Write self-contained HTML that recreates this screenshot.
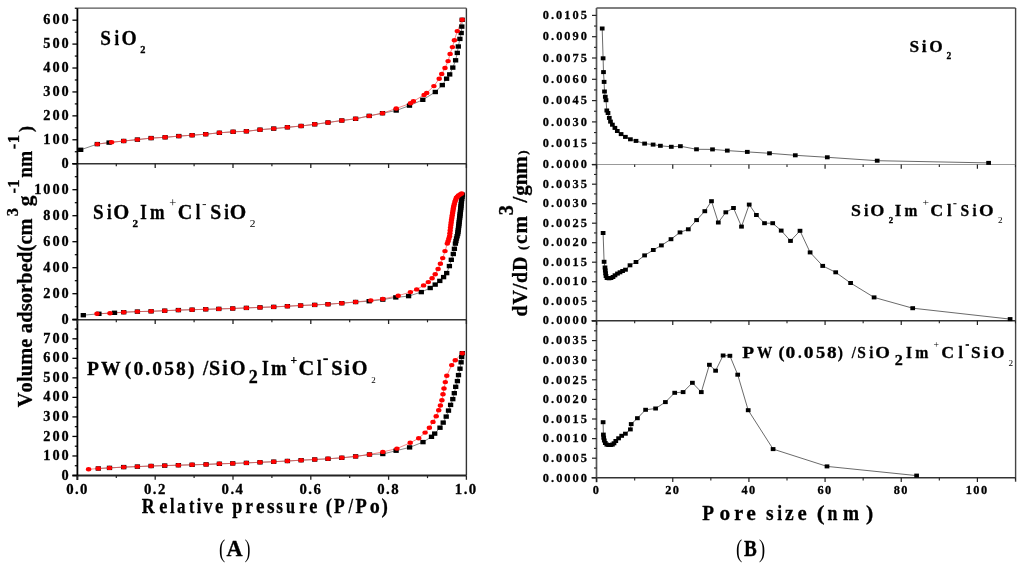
<!DOCTYPE html>
<html><head><meta charset="utf-8"><style>
html,body{margin:0;padding:0;background:#fff;}
body{width:1024px;height:564px;overflow:hidden;}
svg{display:block;will-change:transform;font-family:"Liberation Serif",serif;font-kerning:none;}
text{font-kerning:none;}
text[font-weight="bold"]{stroke:#000;stroke-width:0.3px;paint-order:stroke;}
</style></head><body>
<svg width="1024" height="564" viewBox="0 0 1024 564">
<rect width="1024" height="564" fill="#fff"/>
<line x1="77.4" y1="8.2" x2="466.4" y2="8.2" stroke="#555" stroke-width="1.3"/>
<line x1="466.4" y1="8.2" x2="466.4" y2="475.5" stroke="#333" stroke-width="1.4"/>
<line x1="72.4" y1="163.7" x2="466.4" y2="163.7" stroke="#333" stroke-width="1.6"/>
<line x1="72.4" y1="319.7" x2="466.4" y2="319.7" stroke="#333" stroke-width="1.6"/>
<line x1="72.4" y1="475.5" x2="466.4" y2="475.5" stroke="#222" stroke-width="1.8"/>
<line x1="77.4" y1="8.2" x2="77.4" y2="480" stroke="#000" stroke-width="1.8"/>
<line x1="72.4" y1="163.7" x2="77.4" y2="163.7" stroke="#000" stroke-width="1.3"/>
<line x1="74.8" y1="151.74" x2="77.4" y2="151.74" stroke="#000" stroke-width="1.2"/>
<line x1="72.4" y1="139.78" x2="77.4" y2="139.78" stroke="#000" stroke-width="1.3"/>
<line x1="74.8" y1="127.82" x2="77.4" y2="127.82" stroke="#000" stroke-width="1.2"/>
<line x1="72.4" y1="115.86" x2="77.4" y2="115.86" stroke="#000" stroke-width="1.3"/>
<line x1="74.8" y1="103.9" x2="77.4" y2="103.9" stroke="#000" stroke-width="1.2"/>
<line x1="72.4" y1="91.94" x2="77.4" y2="91.94" stroke="#000" stroke-width="1.3"/>
<line x1="74.8" y1="79.98" x2="77.4" y2="79.98" stroke="#000" stroke-width="1.2"/>
<line x1="72.4" y1="68.02" x2="77.4" y2="68.02" stroke="#000" stroke-width="1.3"/>
<line x1="74.8" y1="56.06" x2="77.4" y2="56.06" stroke="#000" stroke-width="1.2"/>
<line x1="72.4" y1="44.1" x2="77.4" y2="44.1" stroke="#000" stroke-width="1.3"/>
<line x1="74.8" y1="32.14" x2="77.4" y2="32.14" stroke="#000" stroke-width="1.2"/>
<line x1="72.4" y1="20.18" x2="77.4" y2="20.18" stroke="#000" stroke-width="1.3"/>
<line x1="74.8" y1="8.22" x2="77.4" y2="8.22" stroke="#000" stroke-width="1.2"/>
<text transform="matrix(1,0,0,1,61.59,167.8)" font-size="14.3" font-weight="bold" letter-spacing="2" fill="#000">0</text>
<text transform="matrix(1,0,0,1,43.29,143.88)" font-size="14.3" font-weight="bold" letter-spacing="2" fill="#000">100</text>
<text transform="matrix(1,0,0,1,43.29,119.96)" font-size="14.3" font-weight="bold" letter-spacing="2" fill="#000">200</text>
<text transform="matrix(1,0,0,1,43.29,96.04)" font-size="14.3" font-weight="bold" letter-spacing="2" fill="#000">300</text>
<text transform="matrix(1,0,0,1,43.29,72.12)" font-size="14.3" font-weight="bold" letter-spacing="2" fill="#000">400</text>
<text transform="matrix(1,0,0,1,43.29,48.2)" font-size="14.3" font-weight="bold" letter-spacing="2" fill="#000">500</text>
<text transform="matrix(1,0,0,1,43.29,24.28)" font-size="14.3" font-weight="bold" letter-spacing="2" fill="#000">600</text>
<line x1="72.4" y1="319.7" x2="77.4" y2="319.7" stroke="#000" stroke-width="1.3"/>
<line x1="74.8" y1="306.7" x2="77.4" y2="306.7" stroke="#000" stroke-width="1.2"/>
<line x1="72.4" y1="293.7" x2="77.4" y2="293.7" stroke="#000" stroke-width="1.3"/>
<line x1="74.8" y1="280.7" x2="77.4" y2="280.7" stroke="#000" stroke-width="1.2"/>
<line x1="72.4" y1="267.7" x2="77.4" y2="267.7" stroke="#000" stroke-width="1.3"/>
<line x1="74.8" y1="254.7" x2="77.4" y2="254.7" stroke="#000" stroke-width="1.2"/>
<line x1="72.4" y1="241.7" x2="77.4" y2="241.7" stroke="#000" stroke-width="1.3"/>
<line x1="74.8" y1="228.7" x2="77.4" y2="228.7" stroke="#000" stroke-width="1.2"/>
<line x1="72.4" y1="215.7" x2="77.4" y2="215.7" stroke="#000" stroke-width="1.3"/>
<line x1="74.8" y1="202.7" x2="77.4" y2="202.7" stroke="#000" stroke-width="1.2"/>
<line x1="72.4" y1="189.7" x2="77.4" y2="189.7" stroke="#000" stroke-width="1.3"/>
<line x1="74.8" y1="176.7" x2="77.4" y2="176.7" stroke="#000" stroke-width="1.2"/>
<line x1="72.4" y1="163.7" x2="77.4" y2="163.7" stroke="#000" stroke-width="1.3"/>
<text transform="matrix(1,0,0,1,61.59,323.8)" font-size="14.3" font-weight="bold" letter-spacing="2" fill="#000">0</text>
<text transform="matrix(1,0,0,1,43.29,297.8)" font-size="14.3" font-weight="bold" letter-spacing="2" fill="#000">200</text>
<text transform="matrix(1,0,0,1,43.29,271.8)" font-size="14.3" font-weight="bold" letter-spacing="2" fill="#000">400</text>
<text transform="matrix(1,0,0,1,43.29,245.8)" font-size="14.3" font-weight="bold" letter-spacing="2" fill="#000">600</text>
<text transform="matrix(1,0,0,1,43.29,219.8)" font-size="14.3" font-weight="bold" letter-spacing="2" fill="#000">800</text>
<text transform="matrix(1,0,0,1,34.14,193.8)" font-size="14.3" font-weight="bold" letter-spacing="2" fill="#000">1000</text>
<line x1="72.4" y1="475.5" x2="77.4" y2="475.5" stroke="#000" stroke-width="1.3"/>
<line x1="74.8" y1="465.74" x2="77.4" y2="465.74" stroke="#000" stroke-width="1.2"/>
<line x1="72.4" y1="455.97" x2="77.4" y2="455.97" stroke="#000" stroke-width="1.3"/>
<line x1="74.8" y1="446.2" x2="77.4" y2="446.2" stroke="#000" stroke-width="1.2"/>
<line x1="72.4" y1="436.44" x2="77.4" y2="436.44" stroke="#000" stroke-width="1.3"/>
<line x1="74.8" y1="426.68" x2="77.4" y2="426.68" stroke="#000" stroke-width="1.2"/>
<line x1="72.4" y1="416.91" x2="77.4" y2="416.91" stroke="#000" stroke-width="1.3"/>
<line x1="74.8" y1="407.14" x2="77.4" y2="407.14" stroke="#000" stroke-width="1.2"/>
<line x1="72.4" y1="397.38" x2="77.4" y2="397.38" stroke="#000" stroke-width="1.3"/>
<line x1="74.8" y1="387.62" x2="77.4" y2="387.62" stroke="#000" stroke-width="1.2"/>
<line x1="72.4" y1="377.85" x2="77.4" y2="377.85" stroke="#000" stroke-width="1.3"/>
<line x1="74.8" y1="368.08" x2="77.4" y2="368.08" stroke="#000" stroke-width="1.2"/>
<line x1="72.4" y1="358.32" x2="77.4" y2="358.32" stroke="#000" stroke-width="1.3"/>
<line x1="74.8" y1="348.56" x2="77.4" y2="348.56" stroke="#000" stroke-width="1.2"/>
<line x1="72.4" y1="338.79" x2="77.4" y2="338.79" stroke="#000" stroke-width="1.3"/>
<line x1="74.8" y1="329.02" x2="77.4" y2="329.02" stroke="#000" stroke-width="1.2"/>
<line x1="72.4" y1="319.26" x2="77.4" y2="319.26" stroke="#000" stroke-width="1.3"/>
<text transform="matrix(1,0,0,1,61.59,479.6)" font-size="14.3" font-weight="bold" letter-spacing="2" fill="#000">0</text>
<text transform="matrix(1,0,0,1,43.29,460.07)" font-size="14.3" font-weight="bold" letter-spacing="2" fill="#000">100</text>
<text transform="matrix(1,0,0,1,43.29,440.54)" font-size="14.3" font-weight="bold" letter-spacing="2" fill="#000">200</text>
<text transform="matrix(1,0,0,1,43.29,421.01)" font-size="14.3" font-weight="bold" letter-spacing="2" fill="#000">300</text>
<text transform="matrix(1,0,0,1,43.29,401.48)" font-size="14.3" font-weight="bold" letter-spacing="2" fill="#000">400</text>
<text transform="matrix(1,0,0,1,43.29,381.95)" font-size="14.3" font-weight="bold" letter-spacing="2" fill="#000">500</text>
<text transform="matrix(1,0,0,1,43.29,362.42)" font-size="14.3" font-weight="bold" letter-spacing="2" fill="#000">600</text>
<text transform="matrix(1,0,0,1,43.29,342.89)" font-size="14.3" font-weight="bold" letter-spacing="2" fill="#000">700</text>
<line x1="77.4" y1="163.7" x2="77.4" y2="168" stroke="#222" stroke-width="1.3"/>
<line x1="116.3" y1="163.7" x2="116.3" y2="166.3" stroke="#222" stroke-width="1.2"/>
<line x1="155.2" y1="163.7" x2="155.2" y2="168" stroke="#222" stroke-width="1.3"/>
<line x1="194.1" y1="163.7" x2="194.1" y2="166.3" stroke="#222" stroke-width="1.2"/>
<line x1="233" y1="163.7" x2="233" y2="168" stroke="#222" stroke-width="1.3"/>
<line x1="271.9" y1="163.7" x2="271.9" y2="166.3" stroke="#222" stroke-width="1.2"/>
<line x1="310.8" y1="163.7" x2="310.8" y2="168" stroke="#222" stroke-width="1.3"/>
<line x1="349.7" y1="163.7" x2="349.7" y2="166.3" stroke="#222" stroke-width="1.2"/>
<line x1="388.6" y1="163.7" x2="388.6" y2="168" stroke="#222" stroke-width="1.3"/>
<line x1="427.5" y1="163.7" x2="427.5" y2="166.3" stroke="#222" stroke-width="1.2"/>
<line x1="466.4" y1="163.7" x2="466.4" y2="168" stroke="#222" stroke-width="1.3"/>
<line x1="77.4" y1="319.7" x2="77.4" y2="324" stroke="#222" stroke-width="1.3"/>
<line x1="116.3" y1="319.7" x2="116.3" y2="322.3" stroke="#222" stroke-width="1.2"/>
<line x1="155.2" y1="319.7" x2="155.2" y2="324" stroke="#222" stroke-width="1.3"/>
<line x1="194.1" y1="319.7" x2="194.1" y2="322.3" stroke="#222" stroke-width="1.2"/>
<line x1="233" y1="319.7" x2="233" y2="324" stroke="#222" stroke-width="1.3"/>
<line x1="271.9" y1="319.7" x2="271.9" y2="322.3" stroke="#222" stroke-width="1.2"/>
<line x1="310.8" y1="319.7" x2="310.8" y2="324" stroke="#222" stroke-width="1.3"/>
<line x1="349.7" y1="319.7" x2="349.7" y2="322.3" stroke="#222" stroke-width="1.2"/>
<line x1="388.6" y1="319.7" x2="388.6" y2="324" stroke="#222" stroke-width="1.3"/>
<line x1="427.5" y1="319.7" x2="427.5" y2="322.3" stroke="#222" stroke-width="1.2"/>
<line x1="466.4" y1="319.7" x2="466.4" y2="324" stroke="#222" stroke-width="1.3"/>
<line x1="77.4" y1="475.5" x2="77.4" y2="479.8" stroke="#222" stroke-width="1.3"/>
<line x1="116.3" y1="475.5" x2="116.3" y2="478.1" stroke="#222" stroke-width="1.2"/>
<line x1="155.2" y1="475.5" x2="155.2" y2="479.8" stroke="#222" stroke-width="1.3"/>
<line x1="194.1" y1="475.5" x2="194.1" y2="478.1" stroke="#222" stroke-width="1.2"/>
<line x1="233" y1="475.5" x2="233" y2="479.8" stroke="#222" stroke-width="1.3"/>
<line x1="271.9" y1="475.5" x2="271.9" y2="478.1" stroke="#222" stroke-width="1.2"/>
<line x1="310.8" y1="475.5" x2="310.8" y2="479.8" stroke="#222" stroke-width="1.3"/>
<line x1="349.7" y1="475.5" x2="349.7" y2="478.1" stroke="#222" stroke-width="1.2"/>
<line x1="388.6" y1="475.5" x2="388.6" y2="479.8" stroke="#222" stroke-width="1.3"/>
<line x1="427.5" y1="475.5" x2="427.5" y2="478.1" stroke="#222" stroke-width="1.2"/>
<line x1="466.4" y1="475.5" x2="466.4" y2="479.8" stroke="#222" stroke-width="1.3"/>
<text transform="matrix(1,0,0,1,66.15,493.8)" font-size="14.8" font-weight="bold" letter-spacing="1.4" fill="#000">0.0</text>
<text transform="matrix(1,0,0,1,143.99,493.8)" font-size="14.8" font-weight="bold" letter-spacing="1.4" fill="#000">0.2</text>
<text transform="matrix(1,0,0,1,221.61,493.8)" font-size="14.8" font-weight="bold" letter-spacing="1.4" fill="#000">0.4</text>
<text transform="matrix(1,0,0,1,299.48,493.8)" font-size="14.8" font-weight="bold" letter-spacing="1.4" fill="#000">0.6</text>
<text transform="matrix(1,0,0,1,377.31,493.8)" font-size="14.8" font-weight="bold" letter-spacing="1.4" fill="#000">0.8</text>
<text transform="matrix(1,0,0,1,454.84,493.8)" font-size="14.8" font-weight="bold" letter-spacing="1.4" fill="#000">1.0</text>
<line x1="596.5" y1="8" x2="1015.6" y2="8" stroke="#555" stroke-width="1.3"/>
<line x1="1015.6" y1="8" x2="1015.6" y2="481.8" stroke="#444" stroke-width="1.4"/>
<line x1="591.5" y1="164.5" x2="1015.6" y2="164.5" stroke="#999" stroke-width="1.2"/>
<line x1="591.5" y1="320.7" x2="1015.6" y2="320.7" stroke="#333" stroke-width="1.5"/>
<line x1="591.5" y1="477.8" x2="1015.6" y2="477.8" stroke="#333" stroke-width="1.6"/>
<line x1="596.5" y1="8" x2="596.5" y2="482.3" stroke="#555" stroke-width="1.7"/>
<line x1="592" y1="164.5" x2="596.5" y2="164.5" stroke="#222" stroke-width="1.2"/>
<line x1="594" y1="153.85" x2="596.5" y2="153.85" stroke="#222" stroke-width="1.1"/>
<line x1="592" y1="143.2" x2="596.5" y2="143.2" stroke="#222" stroke-width="1.2"/>
<line x1="594" y1="132.55" x2="596.5" y2="132.55" stroke="#222" stroke-width="1.1"/>
<line x1="592" y1="121.9" x2="596.5" y2="121.9" stroke="#222" stroke-width="1.2"/>
<line x1="594" y1="111.25" x2="596.5" y2="111.25" stroke="#222" stroke-width="1.1"/>
<line x1="592" y1="100.6" x2="596.5" y2="100.6" stroke="#222" stroke-width="1.2"/>
<line x1="594" y1="89.95" x2="596.5" y2="89.95" stroke="#222" stroke-width="1.1"/>
<line x1="592" y1="79.3" x2="596.5" y2="79.3" stroke="#222" stroke-width="1.2"/>
<line x1="594" y1="68.65" x2="596.5" y2="68.65" stroke="#222" stroke-width="1.1"/>
<line x1="592" y1="58" x2="596.5" y2="58" stroke="#222" stroke-width="1.2"/>
<line x1="594" y1="47.35" x2="596.5" y2="47.35" stroke="#222" stroke-width="1.1"/>
<line x1="592" y1="36.7" x2="596.5" y2="36.7" stroke="#222" stroke-width="1.2"/>
<line x1="594" y1="26.05" x2="596.5" y2="26.05" stroke="#222" stroke-width="1.1"/>
<line x1="592" y1="15.4" x2="596.5" y2="15.4" stroke="#222" stroke-width="1.2"/>
<text transform="matrix(0.93,0,0,1,542.86,168.2)" font-size="13.3" font-weight="bold" letter-spacing="2.15" fill="#000">0.0000</text>
<text transform="matrix(0.93,0,0,1,542.84,146.9)" font-size="13.3" font-weight="bold" letter-spacing="2.15" fill="#000">0.0015</text>
<text transform="matrix(0.93,0,0,1,542.86,125.6)" font-size="13.3" font-weight="bold" letter-spacing="2.15" fill="#000">0.0030</text>
<text transform="matrix(0.93,0,0,1,542.84,104.3)" font-size="13.3" font-weight="bold" letter-spacing="2.15" fill="#000">0.0045</text>
<text transform="matrix(0.93,0,0,1,542.86,83)" font-size="13.3" font-weight="bold" letter-spacing="2.15" fill="#000">0.0060</text>
<text transform="matrix(0.93,0,0,1,542.84,61.7)" font-size="13.3" font-weight="bold" letter-spacing="2.15" fill="#000">0.0075</text>
<text transform="matrix(0.93,0,0,1,542.86,40.4)" font-size="13.3" font-weight="bold" letter-spacing="2.15" fill="#000">0.0090</text>
<text transform="matrix(0.93,0,0,1,542.84,19.1)" font-size="13.3" font-weight="bold" letter-spacing="2.15" fill="#000">0.0105</text>
<line x1="592" y1="320.7" x2="596.5" y2="320.7" stroke="#222" stroke-width="1.2"/>
<line x1="594" y1="310.95" x2="596.5" y2="310.95" stroke="#222" stroke-width="1.1"/>
<line x1="592" y1="301.2" x2="596.5" y2="301.2" stroke="#222" stroke-width="1.2"/>
<line x1="594" y1="291.45" x2="596.5" y2="291.45" stroke="#222" stroke-width="1.1"/>
<line x1="592" y1="281.7" x2="596.5" y2="281.7" stroke="#222" stroke-width="1.2"/>
<line x1="594" y1="271.95" x2="596.5" y2="271.95" stroke="#222" stroke-width="1.1"/>
<line x1="592" y1="262.2" x2="596.5" y2="262.2" stroke="#222" stroke-width="1.2"/>
<line x1="594" y1="252.45" x2="596.5" y2="252.45" stroke="#222" stroke-width="1.1"/>
<line x1="592" y1="242.7" x2="596.5" y2="242.7" stroke="#222" stroke-width="1.2"/>
<line x1="594" y1="232.95" x2="596.5" y2="232.95" stroke="#222" stroke-width="1.1"/>
<line x1="592" y1="223.2" x2="596.5" y2="223.2" stroke="#222" stroke-width="1.2"/>
<line x1="594" y1="213.45" x2="596.5" y2="213.45" stroke="#222" stroke-width="1.1"/>
<line x1="592" y1="203.7" x2="596.5" y2="203.7" stroke="#222" stroke-width="1.2"/>
<line x1="594" y1="193.95" x2="596.5" y2="193.95" stroke="#222" stroke-width="1.1"/>
<line x1="592" y1="184.2" x2="596.5" y2="184.2" stroke="#222" stroke-width="1.2"/>
<line x1="594" y1="174.45" x2="596.5" y2="174.45" stroke="#222" stroke-width="1.1"/>
<line x1="592" y1="164.7" x2="596.5" y2="164.7" stroke="#222" stroke-width="1.2"/>
<text transform="matrix(0.93,0,0,1,542.86,324.4)" font-size="13.3" font-weight="bold" letter-spacing="2.15" fill="#000">0.0000</text>
<text transform="matrix(0.93,0,0,1,542.84,304.9)" font-size="13.3" font-weight="bold" letter-spacing="2.15" fill="#000">0.0005</text>
<text transform="matrix(0.93,0,0,1,542.86,285.4)" font-size="13.3" font-weight="bold" letter-spacing="2.15" fill="#000">0.0010</text>
<text transform="matrix(0.93,0,0,1,542.84,265.9)" font-size="13.3" font-weight="bold" letter-spacing="2.15" fill="#000">0.0015</text>
<text transform="matrix(0.93,0,0,1,542.86,246.4)" font-size="13.3" font-weight="bold" letter-spacing="2.15" fill="#000">0.0020</text>
<text transform="matrix(0.93,0,0,1,542.84,226.9)" font-size="13.3" font-weight="bold" letter-spacing="2.15" fill="#000">0.0025</text>
<text transform="matrix(0.93,0,0,1,542.86,207.4)" font-size="13.3" font-weight="bold" letter-spacing="2.15" fill="#000">0.0030</text>
<text transform="matrix(0.93,0,0,1,542.84,187.9)" font-size="13.3" font-weight="bold" letter-spacing="2.15" fill="#000">0.0035</text>
<line x1="592" y1="477.8" x2="596.5" y2="477.8" stroke="#222" stroke-width="1.2"/>
<line x1="594" y1="468" x2="596.5" y2="468" stroke="#222" stroke-width="1.1"/>
<line x1="592" y1="458.2" x2="596.5" y2="458.2" stroke="#222" stroke-width="1.2"/>
<line x1="594" y1="448.4" x2="596.5" y2="448.4" stroke="#222" stroke-width="1.1"/>
<line x1="592" y1="438.6" x2="596.5" y2="438.6" stroke="#222" stroke-width="1.2"/>
<line x1="594" y1="428.8" x2="596.5" y2="428.8" stroke="#222" stroke-width="1.1"/>
<line x1="592" y1="419" x2="596.5" y2="419" stroke="#222" stroke-width="1.2"/>
<line x1="594" y1="409.2" x2="596.5" y2="409.2" stroke="#222" stroke-width="1.1"/>
<line x1="592" y1="399.4" x2="596.5" y2="399.4" stroke="#222" stroke-width="1.2"/>
<line x1="594" y1="389.6" x2="596.5" y2="389.6" stroke="#222" stroke-width="1.1"/>
<line x1="592" y1="379.8" x2="596.5" y2="379.8" stroke="#222" stroke-width="1.2"/>
<line x1="594" y1="370" x2="596.5" y2="370" stroke="#222" stroke-width="1.1"/>
<line x1="592" y1="360.2" x2="596.5" y2="360.2" stroke="#222" stroke-width="1.2"/>
<line x1="594" y1="350.4" x2="596.5" y2="350.4" stroke="#222" stroke-width="1.1"/>
<line x1="592" y1="340.6" x2="596.5" y2="340.6" stroke="#222" stroke-width="1.2"/>
<line x1="594" y1="330.8" x2="596.5" y2="330.8" stroke="#222" stroke-width="1.1"/>
<line x1="592" y1="321" x2="596.5" y2="321" stroke="#222" stroke-width="1.2"/>
<text transform="matrix(0.93,0,0,1,542.86,481.5)" font-size="13.3" font-weight="bold" letter-spacing="2.15" fill="#000">0.0000</text>
<text transform="matrix(0.93,0,0,1,542.84,461.9)" font-size="13.3" font-weight="bold" letter-spacing="2.15" fill="#000">0.0005</text>
<text transform="matrix(0.93,0,0,1,542.86,442.3)" font-size="13.3" font-weight="bold" letter-spacing="2.15" fill="#000">0.0010</text>
<text transform="matrix(0.93,0,0,1,542.84,422.7)" font-size="13.3" font-weight="bold" letter-spacing="2.15" fill="#000">0.0015</text>
<text transform="matrix(0.93,0,0,1,542.86,403.1)" font-size="13.3" font-weight="bold" letter-spacing="2.15" fill="#000">0.0020</text>
<text transform="matrix(0.93,0,0,1,542.84,383.5)" font-size="13.3" font-weight="bold" letter-spacing="2.15" fill="#000">0.0025</text>
<text transform="matrix(0.93,0,0,1,542.86,363.9)" font-size="13.3" font-weight="bold" letter-spacing="2.15" fill="#000">0.0030</text>
<text transform="matrix(0.93,0,0,1,542.84,344.3)" font-size="13.3" font-weight="bold" letter-spacing="2.15" fill="#000">0.0035</text>
<line x1="596.6" y1="164.5" x2="596.6" y2="168.8" stroke="#222" stroke-width="1.2"/>
<line x1="634.68" y1="164.5" x2="634.68" y2="167.1" stroke="#222" stroke-width="1.1"/>
<line x1="672.76" y1="164.5" x2="672.76" y2="168.8" stroke="#222" stroke-width="1.2"/>
<line x1="710.84" y1="164.5" x2="710.84" y2="167.1" stroke="#222" stroke-width="1.1"/>
<line x1="748.92" y1="164.5" x2="748.92" y2="168.8" stroke="#222" stroke-width="1.2"/>
<line x1="787" y1="164.5" x2="787" y2="167.1" stroke="#222" stroke-width="1.1"/>
<line x1="825.08" y1="164.5" x2="825.08" y2="168.8" stroke="#222" stroke-width="1.2"/>
<line x1="863.16" y1="164.5" x2="863.16" y2="167.1" stroke="#222" stroke-width="1.1"/>
<line x1="901.24" y1="164.5" x2="901.24" y2="168.8" stroke="#222" stroke-width="1.2"/>
<line x1="939.32" y1="164.5" x2="939.32" y2="167.1" stroke="#222" stroke-width="1.1"/>
<line x1="977.4" y1="164.5" x2="977.4" y2="168.8" stroke="#222" stroke-width="1.2"/>
<line x1="1015.48" y1="164.5" x2="1015.48" y2="167.1" stroke="#222" stroke-width="1.1"/>
<line x1="596.6" y1="320.7" x2="596.6" y2="325" stroke="#222" stroke-width="1.2"/>
<line x1="634.68" y1="320.7" x2="634.68" y2="323.3" stroke="#222" stroke-width="1.1"/>
<line x1="672.76" y1="320.7" x2="672.76" y2="325" stroke="#222" stroke-width="1.2"/>
<line x1="710.84" y1="320.7" x2="710.84" y2="323.3" stroke="#222" stroke-width="1.1"/>
<line x1="748.92" y1="320.7" x2="748.92" y2="325" stroke="#222" stroke-width="1.2"/>
<line x1="787" y1="320.7" x2="787" y2="323.3" stroke="#222" stroke-width="1.1"/>
<line x1="825.08" y1="320.7" x2="825.08" y2="325" stroke="#222" stroke-width="1.2"/>
<line x1="863.16" y1="320.7" x2="863.16" y2="323.3" stroke="#222" stroke-width="1.1"/>
<line x1="901.24" y1="320.7" x2="901.24" y2="325" stroke="#222" stroke-width="1.2"/>
<line x1="939.32" y1="320.7" x2="939.32" y2="323.3" stroke="#222" stroke-width="1.1"/>
<line x1="977.4" y1="320.7" x2="977.4" y2="325" stroke="#222" stroke-width="1.2"/>
<line x1="1015.48" y1="320.7" x2="1015.48" y2="323.3" stroke="#222" stroke-width="1.1"/>
<line x1="596.6" y1="477.8" x2="596.6" y2="482.1" stroke="#222" stroke-width="1.2"/>
<line x1="634.68" y1="477.8" x2="634.68" y2="480.4" stroke="#222" stroke-width="1.1"/>
<line x1="672.76" y1="477.8" x2="672.76" y2="482.1" stroke="#222" stroke-width="1.2"/>
<line x1="710.84" y1="477.8" x2="710.84" y2="480.4" stroke="#222" stroke-width="1.1"/>
<line x1="748.92" y1="477.8" x2="748.92" y2="482.1" stroke="#222" stroke-width="1.2"/>
<line x1="787" y1="477.8" x2="787" y2="480.4" stroke="#222" stroke-width="1.1"/>
<line x1="825.08" y1="477.8" x2="825.08" y2="482.1" stroke="#222" stroke-width="1.2"/>
<line x1="863.16" y1="477.8" x2="863.16" y2="480.4" stroke="#222" stroke-width="1.1"/>
<line x1="901.24" y1="477.8" x2="901.24" y2="482.1" stroke="#222" stroke-width="1.2"/>
<line x1="939.32" y1="477.8" x2="939.32" y2="480.4" stroke="#222" stroke-width="1.1"/>
<line x1="977.4" y1="477.8" x2="977.4" y2="482.1" stroke="#222" stroke-width="1.2"/>
<line x1="1015.48" y1="477.8" x2="1015.48" y2="480.4" stroke="#222" stroke-width="1.1"/>
<text transform="matrix(0.95,0,0,1,592.81,493.8)" font-size="13" font-weight="bold" letter-spacing="1.5" fill="#000">0</text>
<text transform="matrix(0.95,0,0,1,665.15,493.8)" font-size="13" font-weight="bold" letter-spacing="1.5" fill="#000">20</text>
<text transform="matrix(0.95,0,0,1,741.48,493.8)" font-size="13" font-weight="bold" letter-spacing="1.5" fill="#000">40</text>
<text transform="matrix(0.95,0,0,1,817.52,493.8)" font-size="13" font-weight="bold" letter-spacing="1.5" fill="#000">60</text>
<text transform="matrix(0.95,0,0,1,893.68,493.8)" font-size="13" font-weight="bold" letter-spacing="1.5" fill="#000">80</text>
<text transform="matrix(0.95,0,0,1,965.75,493.8)" font-size="13" font-weight="bold" letter-spacing="1.5" fill="#000">100</text>
<polyline points="80.7,149.8 97.3,144.1 109.1,142.6 123.7,141 137.4,139.6 151.1,138.1 165.1,137.3 178.8,136.1 192.1,135.2 205.7,134.2 219.4,132.8 233.1,131.8 246.4,131.3 260,129.7 273.7,128.6 287.4,127.3 301.1,126 314.7,124.3 328,122.5 341.8,120.5 355.6,118.8 369.2,115.9 382.5,113.2 396.2,110.5 409.5,105.6 422.8,99.8 435.3,92 442.3,85.1 446.6,78.7 449.7,74.4 452.8,67.6 455.6,60.3 457.3,52.9 458.3,46.5 459.9,38.9 461.2,33 461.8,26.6 462.2,19.8" fill="none" stroke="#555" stroke-width="0.7"/>
<polyline points="97.3,144.1 111.6,142.2 123.7,141 137.4,139.6 151.1,138.1 165.1,137.3 178.8,136.1 192.1,135.2 205.7,134.2 219.4,132.8 233.1,131.8 246.4,131.3 260,129.7 273.7,128.6 287.4,127.3 301.1,126 314.7,124.3 328,122.5 341.8,120.5 355.6,118.8 369.2,115.9 382.5,113.2 396.2,108.5 410.5,103.3 413.4,101.3 424.1,94.9 426.7,92.9 433.9,86.1 439.2,78.7 441.7,74 445,68 448.1,61.1 450.1,53.9 452.4,47.1 454.4,40.2 457.3,31.1 462.2,19.8" fill="none" stroke="#e55" stroke-width="0.7"/>
<rect x="78.05" y="147.6" width="5.3" height="4.4" fill="#000"/>
<rect x="94.65" y="141.9" width="5.3" height="4.4" fill="#000"/>
<rect x="106.45" y="140.4" width="5.3" height="4.4" fill="#000"/>
<rect x="121.05" y="138.8" width="5.3" height="4.4" fill="#000"/>
<rect x="134.75" y="137.4" width="5.3" height="4.4" fill="#000"/>
<rect x="148.45" y="135.9" width="5.3" height="4.4" fill="#000"/>
<rect x="162.45" y="135.1" width="5.3" height="4.4" fill="#000"/>
<rect x="176.15" y="133.9" width="5.3" height="4.4" fill="#000"/>
<rect x="189.45" y="133" width="5.3" height="4.4" fill="#000"/>
<rect x="203.05" y="132" width="5.3" height="4.4" fill="#000"/>
<rect x="216.75" y="130.6" width="5.3" height="4.4" fill="#000"/>
<rect x="230.45" y="129.6" width="5.3" height="4.4" fill="#000"/>
<rect x="243.75" y="129.1" width="5.3" height="4.4" fill="#000"/>
<rect x="257.35" y="127.5" width="5.3" height="4.4" fill="#000"/>
<rect x="271.05" y="126.4" width="5.3" height="4.4" fill="#000"/>
<rect x="284.75" y="125.1" width="5.3" height="4.4" fill="#000"/>
<rect x="298.45" y="123.8" width="5.3" height="4.4" fill="#000"/>
<rect x="312.05" y="122.1" width="5.3" height="4.4" fill="#000"/>
<rect x="325.35" y="120.3" width="5.3" height="4.4" fill="#000"/>
<rect x="339.15" y="118.3" width="5.3" height="4.4" fill="#000"/>
<rect x="352.95" y="116.6" width="5.3" height="4.4" fill="#000"/>
<rect x="366.55" y="113.7" width="5.3" height="4.4" fill="#000"/>
<rect x="379.85" y="111" width="5.3" height="4.4" fill="#000"/>
<rect x="393.55" y="108.3" width="5.3" height="4.4" fill="#000"/>
<rect x="406.85" y="103.4" width="5.3" height="4.4" fill="#000"/>
<rect x="420.15" y="97.6" width="5.3" height="4.4" fill="#000"/>
<rect x="432.65" y="89.8" width="5.3" height="4.4" fill="#000"/>
<rect x="439.65" y="82.9" width="5.3" height="4.4" fill="#000"/>
<rect x="443.95" y="76.5" width="5.3" height="4.4" fill="#000"/>
<rect x="447.05" y="72.2" width="5.3" height="4.4" fill="#000"/>
<rect x="450.15" y="65.4" width="5.3" height="4.4" fill="#000"/>
<rect x="452.95" y="58.1" width="5.3" height="4.4" fill="#000"/>
<rect x="454.65" y="50.7" width="5.3" height="4.4" fill="#000"/>
<rect x="455.65" y="44.3" width="5.3" height="4.4" fill="#000"/>
<rect x="457.25" y="36.7" width="5.3" height="4.4" fill="#000"/>
<rect x="458.55" y="30.8" width="5.3" height="4.4" fill="#000"/>
<rect x="459.15" y="24.4" width="5.3" height="4.4" fill="#000"/>
<rect x="459.55" y="17.6" width="5.3" height="4.4" fill="#000"/>
<ellipse cx="97.3" cy="144.1" rx="2.7" ry="2.2" fill="#f00"/>
<ellipse cx="111.6" cy="142.2" rx="2.7" ry="2.2" fill="#f00"/>
<ellipse cx="123.7" cy="141" rx="2.7" ry="2.2" fill="#f00"/>
<ellipse cx="137.4" cy="139.6" rx="2.7" ry="2.2" fill="#f00"/>
<ellipse cx="151.1" cy="138.1" rx="2.7" ry="2.2" fill="#f00"/>
<ellipse cx="165.1" cy="137.3" rx="2.7" ry="2.2" fill="#f00"/>
<ellipse cx="178.8" cy="136.1" rx="2.7" ry="2.2" fill="#f00"/>
<ellipse cx="192.1" cy="135.2" rx="2.7" ry="2.2" fill="#f00"/>
<ellipse cx="205.7" cy="134.2" rx="2.7" ry="2.2" fill="#f00"/>
<ellipse cx="219.4" cy="132.8" rx="2.7" ry="2.2" fill="#f00"/>
<ellipse cx="233.1" cy="131.8" rx="2.7" ry="2.2" fill="#f00"/>
<ellipse cx="246.4" cy="131.3" rx="2.7" ry="2.2" fill="#f00"/>
<ellipse cx="260" cy="129.7" rx="2.7" ry="2.2" fill="#f00"/>
<ellipse cx="273.7" cy="128.6" rx="2.7" ry="2.2" fill="#f00"/>
<ellipse cx="287.4" cy="127.3" rx="2.7" ry="2.2" fill="#f00"/>
<ellipse cx="301.1" cy="126" rx="2.7" ry="2.2" fill="#f00"/>
<ellipse cx="314.7" cy="124.3" rx="2.7" ry="2.2" fill="#f00"/>
<ellipse cx="328" cy="122.5" rx="2.7" ry="2.2" fill="#f00"/>
<ellipse cx="341.8" cy="120.5" rx="2.7" ry="2.2" fill="#f00"/>
<ellipse cx="355.6" cy="118.8" rx="2.7" ry="2.2" fill="#f00"/>
<ellipse cx="369.2" cy="115.9" rx="2.7" ry="2.2" fill="#f00"/>
<ellipse cx="382.5" cy="113.2" rx="2.7" ry="2.2" fill="#f00"/>
<ellipse cx="396.2" cy="108.5" rx="2.7" ry="2.2" fill="#f00"/>
<ellipse cx="410.5" cy="103.3" rx="2.7" ry="2.2" fill="#f00"/>
<ellipse cx="413.4" cy="101.3" rx="2.7" ry="2.2" fill="#f00"/>
<ellipse cx="424.1" cy="94.9" rx="2.7" ry="2.2" fill="#f00"/>
<ellipse cx="426.7" cy="92.9" rx="2.7" ry="2.2" fill="#f00"/>
<ellipse cx="433.9" cy="86.1" rx="2.7" ry="2.2" fill="#f00"/>
<ellipse cx="439.2" cy="78.7" rx="2.7" ry="2.2" fill="#f00"/>
<ellipse cx="441.7" cy="74" rx="2.7" ry="2.2" fill="#f00"/>
<ellipse cx="445" cy="68" rx="2.7" ry="2.2" fill="#f00"/>
<ellipse cx="448.1" cy="61.1" rx="2.7" ry="2.2" fill="#f00"/>
<ellipse cx="450.1" cy="53.9" rx="2.7" ry="2.2" fill="#f00"/>
<ellipse cx="452.4" cy="47.1" rx="2.7" ry="2.2" fill="#f00"/>
<ellipse cx="454.4" cy="40.2" rx="2.7" ry="2.2" fill="#f00"/>
<ellipse cx="457.3" cy="31.1" rx="2.7" ry="2.2" fill="#f00"/>
<ellipse cx="462.2" cy="19.8" rx="2.7" ry="2.2" fill="#f00"/>
<polyline points="83.3,315.2 98.9,313.8 114.5,312.8 123.7,312.2 137.4,311.6 151.1,311.3 164.7,310.7 178.4,310.1 192.1,309.7 205.7,309.3 218.8,308.9 232.7,308.5 246.4,307.9 260,307.4 273.7,306.9 287.4,306.2 300.6,305.5 314.7,304.9 328,304.2 341.8,303.2 355.6,302 369.2,301.2 382.8,299.6 395.8,297.4 408.6,296.1 421.3,292.1 430.2,288 435.2,284.6 439.8,280.9 443.6,277.1 446.7,273.1 449.4,266.1 451.3,259.8 453.3,254 454.4,248.8 455.4,243.6 455.95,241.05 456.5,238.5 457.1,236.25 457.7,234 457.97,232 458.23,230 458.5,228 458.73,226 458.97,224 459.2,222 459.43,220 459.67,218 459.9,216 460.13,214 460.37,212 460.6,210 460.8,208 461,206 461.2,204 461.5,201.5 461.8,199 462.1,196.85 462.4,194.7" fill="none" stroke="#555" stroke-width="0.7"/>
<polyline points="97,313.8 110,313.2 123.7,312.2 137.4,311.6 151.1,311.3 164.7,310.7 178.4,310.1 192.1,309.7 205.7,309.3 218.8,308.9 232.7,308.5 246.4,307.9 260,307.4 273.7,306.9 287.4,306.2 300.6,305.5 314.7,304.9 328,304.2 341.8,303.2 355.6,302 370.8,300.4 382.8,299 398.2,295.7 410.4,292.1 416.7,289.4 423.6,285.4 428.3,282.1 432.1,278.2 435.2,274.2 438.1,269 440.4,263.8 442.7,258.1 445,251.1 447.3,243.6 448.07,241.13 448.83,238.67 449.6,236.2 449.9,233.33 450.2,230.47 450.5,227.6 450.83,225.07 451.17,222.53 451.5,220 451.87,217.67 452.23,215.33 452.6,213 452.97,210.77 453.33,208.53 453.7,206.3 454.35,203.9 455,201.5 455.7,199.65 456.4,197.8 457.45,196.65 458.5,195.5 460.1,194.5 461.7,193.5" fill="none" stroke="#e55" stroke-width="0.7"/>
<rect x="80.65" y="313" width="5.3" height="4.4" fill="#000"/>
<rect x="96.25" y="311.6" width="5.3" height="4.4" fill="#000"/>
<rect x="111.85" y="310.6" width="5.3" height="4.4" fill="#000"/>
<rect x="121.05" y="310" width="5.3" height="4.4" fill="#000"/>
<rect x="134.75" y="309.4" width="5.3" height="4.4" fill="#000"/>
<rect x="148.45" y="309.1" width="5.3" height="4.4" fill="#000"/>
<rect x="162.05" y="308.5" width="5.3" height="4.4" fill="#000"/>
<rect x="175.75" y="307.9" width="5.3" height="4.4" fill="#000"/>
<rect x="189.45" y="307.5" width="5.3" height="4.4" fill="#000"/>
<rect x="203.05" y="307.1" width="5.3" height="4.4" fill="#000"/>
<rect x="216.15" y="306.7" width="5.3" height="4.4" fill="#000"/>
<rect x="230.05" y="306.3" width="5.3" height="4.4" fill="#000"/>
<rect x="243.75" y="305.7" width="5.3" height="4.4" fill="#000"/>
<rect x="257.35" y="305.2" width="5.3" height="4.4" fill="#000"/>
<rect x="271.05" y="304.7" width="5.3" height="4.4" fill="#000"/>
<rect x="284.75" y="304" width="5.3" height="4.4" fill="#000"/>
<rect x="297.95" y="303.3" width="5.3" height="4.4" fill="#000"/>
<rect x="312.05" y="302.7" width="5.3" height="4.4" fill="#000"/>
<rect x="325.35" y="302" width="5.3" height="4.4" fill="#000"/>
<rect x="339.15" y="301" width="5.3" height="4.4" fill="#000"/>
<rect x="352.95" y="299.8" width="5.3" height="4.4" fill="#000"/>
<rect x="366.55" y="299" width="5.3" height="4.4" fill="#000"/>
<rect x="380.15" y="297.4" width="5.3" height="4.4" fill="#000"/>
<rect x="393.15" y="295.2" width="5.3" height="4.4" fill="#000"/>
<rect x="405.95" y="293.9" width="5.3" height="4.4" fill="#000"/>
<rect x="418.65" y="289.9" width="5.3" height="4.4" fill="#000"/>
<rect x="427.55" y="285.8" width="5.3" height="4.4" fill="#000"/>
<rect x="432.55" y="282.4" width="5.3" height="4.4" fill="#000"/>
<rect x="437.15" y="278.7" width="5.3" height="4.4" fill="#000"/>
<rect x="440.95" y="274.9" width="5.3" height="4.4" fill="#000"/>
<rect x="444.05" y="270.9" width="5.3" height="4.4" fill="#000"/>
<rect x="446.75" y="263.9" width="5.3" height="4.4" fill="#000"/>
<rect x="448.65" y="257.6" width="5.3" height="4.4" fill="#000"/>
<rect x="450.65" y="251.8" width="5.3" height="4.4" fill="#000"/>
<rect x="451.75" y="246.6" width="5.3" height="4.4" fill="#000"/>
<rect x="452.75" y="241.4" width="5.3" height="4.4" fill="#000"/>
<rect x="453.3" y="238.85" width="5.3" height="4.4" fill="#000"/>
<rect x="453.85" y="236.3" width="5.3" height="4.4" fill="#000"/>
<rect x="454.45" y="234.05" width="5.3" height="4.4" fill="#000"/>
<rect x="455.05" y="231.8" width="5.3" height="4.4" fill="#000"/>
<rect x="455.32" y="229.8" width="5.3" height="4.4" fill="#000"/>
<rect x="455.58" y="227.8" width="5.3" height="4.4" fill="#000"/>
<rect x="455.85" y="225.8" width="5.3" height="4.4" fill="#000"/>
<rect x="456.08" y="223.8" width="5.3" height="4.4" fill="#000"/>
<rect x="456.32" y="221.8" width="5.3" height="4.4" fill="#000"/>
<rect x="456.55" y="219.8" width="5.3" height="4.4" fill="#000"/>
<rect x="456.78" y="217.8" width="5.3" height="4.4" fill="#000"/>
<rect x="457.02" y="215.8" width="5.3" height="4.4" fill="#000"/>
<rect x="457.25" y="213.8" width="5.3" height="4.4" fill="#000"/>
<rect x="457.48" y="211.8" width="5.3" height="4.4" fill="#000"/>
<rect x="457.72" y="209.8" width="5.3" height="4.4" fill="#000"/>
<rect x="457.95" y="207.8" width="5.3" height="4.4" fill="#000"/>
<rect x="458.15" y="205.8" width="5.3" height="4.4" fill="#000"/>
<rect x="458.35" y="203.8" width="5.3" height="4.4" fill="#000"/>
<rect x="458.55" y="201.8" width="5.3" height="4.4" fill="#000"/>
<rect x="458.85" y="199.3" width="5.3" height="4.4" fill="#000"/>
<rect x="459.15" y="196.8" width="5.3" height="4.4" fill="#000"/>
<rect x="459.45" y="194.65" width="5.3" height="4.4" fill="#000"/>
<rect x="459.75" y="192.5" width="5.3" height="4.4" fill="#000"/>
<ellipse cx="97" cy="313.8" rx="2.7" ry="2.2" fill="#f00"/>
<ellipse cx="110" cy="313.2" rx="2.7" ry="2.2" fill="#f00"/>
<ellipse cx="123.7" cy="312.2" rx="2.7" ry="2.2" fill="#f00"/>
<ellipse cx="137.4" cy="311.6" rx="2.7" ry="2.2" fill="#f00"/>
<ellipse cx="151.1" cy="311.3" rx="2.7" ry="2.2" fill="#f00"/>
<ellipse cx="164.7" cy="310.7" rx="2.7" ry="2.2" fill="#f00"/>
<ellipse cx="178.4" cy="310.1" rx="2.7" ry="2.2" fill="#f00"/>
<ellipse cx="192.1" cy="309.7" rx="2.7" ry="2.2" fill="#f00"/>
<ellipse cx="205.7" cy="309.3" rx="2.7" ry="2.2" fill="#f00"/>
<ellipse cx="218.8" cy="308.9" rx="2.7" ry="2.2" fill="#f00"/>
<ellipse cx="232.7" cy="308.5" rx="2.7" ry="2.2" fill="#f00"/>
<ellipse cx="246.4" cy="307.9" rx="2.7" ry="2.2" fill="#f00"/>
<ellipse cx="260" cy="307.4" rx="2.7" ry="2.2" fill="#f00"/>
<ellipse cx="273.7" cy="306.9" rx="2.7" ry="2.2" fill="#f00"/>
<ellipse cx="287.4" cy="306.2" rx="2.7" ry="2.2" fill="#f00"/>
<ellipse cx="300.6" cy="305.5" rx="2.7" ry="2.2" fill="#f00"/>
<ellipse cx="314.7" cy="304.9" rx="2.7" ry="2.2" fill="#f00"/>
<ellipse cx="328" cy="304.2" rx="2.7" ry="2.2" fill="#f00"/>
<ellipse cx="341.8" cy="303.2" rx="2.7" ry="2.2" fill="#f00"/>
<ellipse cx="355.6" cy="302" rx="2.7" ry="2.2" fill="#f00"/>
<ellipse cx="370.8" cy="300.4" rx="2.7" ry="2.2" fill="#f00"/>
<ellipse cx="382.8" cy="299" rx="2.7" ry="2.2" fill="#f00"/>
<ellipse cx="398.2" cy="295.7" rx="2.7" ry="2.2" fill="#f00"/>
<ellipse cx="410.4" cy="292.1" rx="2.7" ry="2.2" fill="#f00"/>
<ellipse cx="416.7" cy="289.4" rx="2.7" ry="2.2" fill="#f00"/>
<ellipse cx="423.6" cy="285.4" rx="2.7" ry="2.2" fill="#f00"/>
<ellipse cx="428.3" cy="282.1" rx="2.7" ry="2.2" fill="#f00"/>
<ellipse cx="432.1" cy="278.2" rx="2.7" ry="2.2" fill="#f00"/>
<ellipse cx="435.2" cy="274.2" rx="2.7" ry="2.2" fill="#f00"/>
<ellipse cx="438.1" cy="269" rx="2.7" ry="2.2" fill="#f00"/>
<ellipse cx="440.4" cy="263.8" rx="2.7" ry="2.2" fill="#f00"/>
<ellipse cx="442.7" cy="258.1" rx="2.7" ry="2.2" fill="#f00"/>
<ellipse cx="445" cy="251.1" rx="2.7" ry="2.2" fill="#f00"/>
<ellipse cx="447.3" cy="243.6" rx="2.7" ry="2.2" fill="#f00"/>
<ellipse cx="448.07" cy="241.13" rx="2.7" ry="2.2" fill="#f00"/>
<ellipse cx="448.83" cy="238.67" rx="2.7" ry="2.2" fill="#f00"/>
<ellipse cx="449.6" cy="236.2" rx="2.7" ry="2.2" fill="#f00"/>
<ellipse cx="449.9" cy="233.33" rx="2.7" ry="2.2" fill="#f00"/>
<ellipse cx="450.2" cy="230.47" rx="2.7" ry="2.2" fill="#f00"/>
<ellipse cx="450.5" cy="227.6" rx="2.7" ry="2.2" fill="#f00"/>
<ellipse cx="450.83" cy="225.07" rx="2.7" ry="2.2" fill="#f00"/>
<ellipse cx="451.17" cy="222.53" rx="2.7" ry="2.2" fill="#f00"/>
<ellipse cx="451.5" cy="220" rx="2.7" ry="2.2" fill="#f00"/>
<ellipse cx="451.87" cy="217.67" rx="2.7" ry="2.2" fill="#f00"/>
<ellipse cx="452.23" cy="215.33" rx="2.7" ry="2.2" fill="#f00"/>
<ellipse cx="452.6" cy="213" rx="2.7" ry="2.2" fill="#f00"/>
<ellipse cx="452.97" cy="210.77" rx="2.7" ry="2.2" fill="#f00"/>
<ellipse cx="453.33" cy="208.53" rx="2.7" ry="2.2" fill="#f00"/>
<ellipse cx="453.7" cy="206.3" rx="2.7" ry="2.2" fill="#f00"/>
<ellipse cx="454.35" cy="203.9" rx="2.7" ry="2.2" fill="#f00"/>
<ellipse cx="455" cy="201.5" rx="2.7" ry="2.2" fill="#f00"/>
<ellipse cx="455.7" cy="199.65" rx="2.7" ry="2.2" fill="#f00"/>
<ellipse cx="456.4" cy="197.8" rx="2.7" ry="2.2" fill="#f00"/>
<ellipse cx="457.45" cy="196.65" rx="2.7" ry="2.2" fill="#f00"/>
<ellipse cx="458.5" cy="195.5" rx="2.7" ry="2.2" fill="#f00"/>
<ellipse cx="460.1" cy="194.5" rx="2.7" ry="2.2" fill="#f00"/>
<ellipse cx="461.7" cy="193.5" rx="2.7" ry="2.2" fill="#f00"/>
<polyline points="98.3,468.5 109.5,467.9 123.7,467.1 137.4,466.6 151.1,466 164.7,465.6 178.4,465.2 192.1,464.8 206.1,464.4 219.4,463.8 232.7,463.4 246.4,462.9 260,462.3 273.7,461.7 287.4,461 301.1,460.2 314.7,459.5 328,458.8 341.8,457.8 355.6,456.4 369.5,454.5 382.8,454 396.1,450.7 409.6,447.4 423,442.1 431.5,436.8 434.7,433.6 440,427.7 443.2,422.6 446.2,416.6 448.5,410.6 450.6,404.9 452.8,399.1 454.3,393.2 455.7,386.8 457.4,381.1 458.5,375.1 460,368.7 461.1,362.3 461.7,357 462.3,353.2" fill="none" stroke="#555" stroke-width="0.7"/>
<polyline points="88.6,469.3 98.3,468.5 109.5,467.9 123.7,467.1 137.4,466.6 151.1,466 164.7,465.6 178.4,465.2 192.1,464.8 206.1,464.4 219.4,463.8 232.7,463.4 246.4,462.9 260,462.3 273.7,461.7 287.4,461 301.1,460.2 314.7,459.5 328,458.8 341.8,457.8 355.6,456.4 369.5,454.5 382.8,451.9 396.9,448.6 410.2,442.8 418.7,438.3 425.1,432.6 429.4,427.7 433,421.9 436.2,416.2 438.7,410.2 440.4,405.5 441.9,400.2 443,394.3 444,388.5 445.3,382.1 446.8,375.7 451.7,365.1 455.3,360.2 462.3,353.2" fill="none" stroke="#e55" stroke-width="0.7"/>
<rect x="95.65" y="466.3" width="5.3" height="4.4" fill="#000"/>
<rect x="106.85" y="465.7" width="5.3" height="4.4" fill="#000"/>
<rect x="121.05" y="464.9" width="5.3" height="4.4" fill="#000"/>
<rect x="134.75" y="464.4" width="5.3" height="4.4" fill="#000"/>
<rect x="148.45" y="463.8" width="5.3" height="4.4" fill="#000"/>
<rect x="162.05" y="463.4" width="5.3" height="4.4" fill="#000"/>
<rect x="175.75" y="463" width="5.3" height="4.4" fill="#000"/>
<rect x="189.45" y="462.6" width="5.3" height="4.4" fill="#000"/>
<rect x="203.45" y="462.2" width="5.3" height="4.4" fill="#000"/>
<rect x="216.75" y="461.6" width="5.3" height="4.4" fill="#000"/>
<rect x="230.05" y="461.2" width="5.3" height="4.4" fill="#000"/>
<rect x="243.75" y="460.7" width="5.3" height="4.4" fill="#000"/>
<rect x="257.35" y="460.1" width="5.3" height="4.4" fill="#000"/>
<rect x="271.05" y="459.5" width="5.3" height="4.4" fill="#000"/>
<rect x="284.75" y="458.8" width="5.3" height="4.4" fill="#000"/>
<rect x="298.45" y="458" width="5.3" height="4.4" fill="#000"/>
<rect x="312.05" y="457.3" width="5.3" height="4.4" fill="#000"/>
<rect x="325.35" y="456.6" width="5.3" height="4.4" fill="#000"/>
<rect x="339.15" y="455.6" width="5.3" height="4.4" fill="#000"/>
<rect x="352.95" y="454.2" width="5.3" height="4.4" fill="#000"/>
<rect x="366.85" y="452.3" width="5.3" height="4.4" fill="#000"/>
<rect x="380.15" y="451.8" width="5.3" height="4.4" fill="#000"/>
<rect x="393.45" y="448.5" width="5.3" height="4.4" fill="#000"/>
<rect x="406.95" y="445.2" width="5.3" height="4.4" fill="#000"/>
<rect x="420.35" y="439.9" width="5.3" height="4.4" fill="#000"/>
<rect x="428.85" y="434.6" width="5.3" height="4.4" fill="#000"/>
<rect x="432.05" y="431.4" width="5.3" height="4.4" fill="#000"/>
<rect x="437.35" y="425.5" width="5.3" height="4.4" fill="#000"/>
<rect x="440.55" y="420.4" width="5.3" height="4.4" fill="#000"/>
<rect x="443.55" y="414.4" width="5.3" height="4.4" fill="#000"/>
<rect x="445.85" y="408.4" width="5.3" height="4.4" fill="#000"/>
<rect x="447.95" y="402.7" width="5.3" height="4.4" fill="#000"/>
<rect x="450.15" y="396.9" width="5.3" height="4.4" fill="#000"/>
<rect x="451.65" y="391" width="5.3" height="4.4" fill="#000"/>
<rect x="453.05" y="384.6" width="5.3" height="4.4" fill="#000"/>
<rect x="454.75" y="378.9" width="5.3" height="4.4" fill="#000"/>
<rect x="455.85" y="372.9" width="5.3" height="4.4" fill="#000"/>
<rect x="457.35" y="366.5" width="5.3" height="4.4" fill="#000"/>
<rect x="458.45" y="360.1" width="5.3" height="4.4" fill="#000"/>
<rect x="459.05" y="354.8" width="5.3" height="4.4" fill="#000"/>
<rect x="459.65" y="351" width="5.3" height="4.4" fill="#000"/>
<ellipse cx="88.6" cy="469.3" rx="2.7" ry="2.2" fill="#f00"/>
<ellipse cx="98.3" cy="468.5" rx="2.7" ry="2.2" fill="#f00"/>
<ellipse cx="109.5" cy="467.9" rx="2.7" ry="2.2" fill="#f00"/>
<ellipse cx="123.7" cy="467.1" rx="2.7" ry="2.2" fill="#f00"/>
<ellipse cx="137.4" cy="466.6" rx="2.7" ry="2.2" fill="#f00"/>
<ellipse cx="151.1" cy="466" rx="2.7" ry="2.2" fill="#f00"/>
<ellipse cx="164.7" cy="465.6" rx="2.7" ry="2.2" fill="#f00"/>
<ellipse cx="178.4" cy="465.2" rx="2.7" ry="2.2" fill="#f00"/>
<ellipse cx="192.1" cy="464.8" rx="2.7" ry="2.2" fill="#f00"/>
<ellipse cx="206.1" cy="464.4" rx="2.7" ry="2.2" fill="#f00"/>
<ellipse cx="219.4" cy="463.8" rx="2.7" ry="2.2" fill="#f00"/>
<ellipse cx="232.7" cy="463.4" rx="2.7" ry="2.2" fill="#f00"/>
<ellipse cx="246.4" cy="462.9" rx="2.7" ry="2.2" fill="#f00"/>
<ellipse cx="260" cy="462.3" rx="2.7" ry="2.2" fill="#f00"/>
<ellipse cx="273.7" cy="461.7" rx="2.7" ry="2.2" fill="#f00"/>
<ellipse cx="287.4" cy="461" rx="2.7" ry="2.2" fill="#f00"/>
<ellipse cx="301.1" cy="460.2" rx="2.7" ry="2.2" fill="#f00"/>
<ellipse cx="314.7" cy="459.5" rx="2.7" ry="2.2" fill="#f00"/>
<ellipse cx="328" cy="458.8" rx="2.7" ry="2.2" fill="#f00"/>
<ellipse cx="341.8" cy="457.8" rx="2.7" ry="2.2" fill="#f00"/>
<ellipse cx="355.6" cy="456.4" rx="2.7" ry="2.2" fill="#f00"/>
<ellipse cx="369.5" cy="454.5" rx="2.7" ry="2.2" fill="#f00"/>
<ellipse cx="382.8" cy="451.9" rx="2.7" ry="2.2" fill="#f00"/>
<ellipse cx="396.9" cy="448.6" rx="2.7" ry="2.2" fill="#f00"/>
<ellipse cx="410.2" cy="442.8" rx="2.7" ry="2.2" fill="#f00"/>
<ellipse cx="418.7" cy="438.3" rx="2.7" ry="2.2" fill="#f00"/>
<ellipse cx="425.1" cy="432.6" rx="2.7" ry="2.2" fill="#f00"/>
<ellipse cx="429.4" cy="427.7" rx="2.7" ry="2.2" fill="#f00"/>
<ellipse cx="433" cy="421.9" rx="2.7" ry="2.2" fill="#f00"/>
<ellipse cx="436.2" cy="416.2" rx="2.7" ry="2.2" fill="#f00"/>
<ellipse cx="438.7" cy="410.2" rx="2.7" ry="2.2" fill="#f00"/>
<ellipse cx="440.4" cy="405.5" rx="2.7" ry="2.2" fill="#f00"/>
<ellipse cx="441.9" cy="400.2" rx="2.7" ry="2.2" fill="#f00"/>
<ellipse cx="443" cy="394.3" rx="2.7" ry="2.2" fill="#f00"/>
<ellipse cx="444" cy="388.5" rx="2.7" ry="2.2" fill="#f00"/>
<ellipse cx="445.3" cy="382.1" rx="2.7" ry="2.2" fill="#f00"/>
<ellipse cx="446.8" cy="375.7" rx="2.7" ry="2.2" fill="#f00"/>
<ellipse cx="451.7" cy="365.1" rx="2.7" ry="2.2" fill="#f00"/>
<ellipse cx="455.3" cy="360.2" rx="2.7" ry="2.2" fill="#f00"/>
<ellipse cx="462.3" cy="353.2" rx="2.7" ry="2.2" fill="#f00"/>
<polyline points="602.2,28.5 603.1,58.3 603.5,72.1 604.1,81.9 604.5,91.5 605.3,96.8 606,100.2 606.8,110.5 608,113 609.3,117.9 610.5,121.6 612.4,124.7 614.9,127.9 617.3,131 621.1,134.1 625.4,136.9 630.4,139.3 636,140.9 644.6,143.6 653.1,144.6 660.4,145.8 671.3,146.8 680.4,146.2 696.5,149.3 712.5,149.4 727.3,150.6 747.3,151.9 769.5,153.3 795.3,155.3 827.3,157.3 877.2,160.7 988.6,162.9" fill="none" stroke="#444" stroke-width="0.8"/>
<rect x="599.85" y="26.5" width="4.7" height="4" fill="#000"/>
<rect x="600.75" y="56.3" width="4.7" height="4" fill="#000"/>
<rect x="601.15" y="70.1" width="4.7" height="4" fill="#000"/>
<rect x="601.75" y="79.9" width="4.7" height="4" fill="#000"/>
<rect x="602.15" y="89.5" width="4.7" height="4" fill="#000"/>
<rect x="602.95" y="94.8" width="4.7" height="4" fill="#000"/>
<rect x="603.65" y="98.2" width="4.7" height="4" fill="#000"/>
<rect x="604.45" y="108.5" width="4.7" height="4" fill="#000"/>
<rect x="605.65" y="111" width="4.7" height="4" fill="#000"/>
<rect x="606.95" y="115.9" width="4.7" height="4" fill="#000"/>
<rect x="608.15" y="119.6" width="4.7" height="4" fill="#000"/>
<rect x="610.05" y="122.7" width="4.7" height="4" fill="#000"/>
<rect x="612.55" y="125.9" width="4.7" height="4" fill="#000"/>
<rect x="614.95" y="129" width="4.7" height="4" fill="#000"/>
<rect x="618.75" y="132.1" width="4.7" height="4" fill="#000"/>
<rect x="623.05" y="134.9" width="4.7" height="4" fill="#000"/>
<rect x="628.05" y="137.3" width="4.7" height="4" fill="#000"/>
<rect x="633.65" y="138.9" width="4.7" height="4" fill="#000"/>
<rect x="642.25" y="141.6" width="4.7" height="4" fill="#000"/>
<rect x="650.75" y="142.6" width="4.7" height="4" fill="#000"/>
<rect x="658.05" y="143.8" width="4.7" height="4" fill="#000"/>
<rect x="668.95" y="144.8" width="4.7" height="4" fill="#000"/>
<rect x="678.05" y="144.2" width="4.7" height="4" fill="#000"/>
<rect x="694.15" y="147.3" width="4.7" height="4" fill="#000"/>
<rect x="710.15" y="147.4" width="4.7" height="4" fill="#000"/>
<rect x="724.95" y="148.6" width="4.7" height="4" fill="#000"/>
<rect x="744.95" y="149.9" width="4.7" height="4" fill="#000"/>
<rect x="767.15" y="151.3" width="4.7" height="4" fill="#000"/>
<rect x="792.95" y="153.3" width="4.7" height="4" fill="#000"/>
<rect x="824.95" y="155.3" width="4.7" height="4" fill="#000"/>
<rect x="874.85" y="158.7" width="4.7" height="4" fill="#000"/>
<rect x="986.25" y="160.9" width="4.7" height="4" fill="#000"/>
<polyline points="603.1,233 604.1,261.8 605,267.5 605.3,270.5 605.6,273.3 606,276 607,278 609,278.3 611,278 613,277 615,275.3 617.5,273.6 620,272.3 622.6,271 625.5,269.7 630,265.3 636,262 644.6,255.4 653.3,250 661.4,245.4 671,239.2 680,232.4 688.3,229.3 696.6,220.1 704.8,211.2 711.5,201.2 718.3,222.5 725.8,212.3 733.5,208 741.5,226.6 749.2,204.6 756.4,215 764.5,223.2 772.7,223.2 781.2,230.6 790.5,240.9 800,230.8 810.1,252.4 822.7,265.9 835.7,272.3 850.6,283 874.1,297.4 912.7,308.2 1010.1,319.1" fill="none" stroke="#444" stroke-width="0.8"/>
<rect x="600.75" y="231" width="4.7" height="4" fill="#000"/>
<rect x="601.75" y="259.8" width="4.7" height="4" fill="#000"/>
<rect x="602.65" y="265.5" width="4.7" height="4" fill="#000"/>
<rect x="602.95" y="268.5" width="4.7" height="4" fill="#000"/>
<rect x="603.25" y="271.3" width="4.7" height="4" fill="#000"/>
<rect x="603.65" y="274" width="4.7" height="4" fill="#000"/>
<rect x="604.65" y="276" width="4.7" height="4" fill="#000"/>
<rect x="606.65" y="276.3" width="4.7" height="4" fill="#000"/>
<rect x="608.65" y="276" width="4.7" height="4" fill="#000"/>
<rect x="610.65" y="275" width="4.7" height="4" fill="#000"/>
<rect x="612.65" y="273.3" width="4.7" height="4" fill="#000"/>
<rect x="615.15" y="271.6" width="4.7" height="4" fill="#000"/>
<rect x="617.65" y="270.3" width="4.7" height="4" fill="#000"/>
<rect x="620.25" y="269" width="4.7" height="4" fill="#000"/>
<rect x="623.15" y="267.7" width="4.7" height="4" fill="#000"/>
<rect x="627.65" y="263.3" width="4.7" height="4" fill="#000"/>
<rect x="633.65" y="260" width="4.7" height="4" fill="#000"/>
<rect x="642.25" y="253.4" width="4.7" height="4" fill="#000"/>
<rect x="650.95" y="248" width="4.7" height="4" fill="#000"/>
<rect x="659.05" y="243.4" width="4.7" height="4" fill="#000"/>
<rect x="668.65" y="237.2" width="4.7" height="4" fill="#000"/>
<rect x="677.65" y="230.4" width="4.7" height="4" fill="#000"/>
<rect x="685.95" y="227.3" width="4.7" height="4" fill="#000"/>
<rect x="694.25" y="218.1" width="4.7" height="4" fill="#000"/>
<rect x="702.45" y="209.2" width="4.7" height="4" fill="#000"/>
<rect x="709.15" y="199.2" width="4.7" height="4" fill="#000"/>
<rect x="715.95" y="220.5" width="4.7" height="4" fill="#000"/>
<rect x="723.45" y="210.3" width="4.7" height="4" fill="#000"/>
<rect x="731.15" y="206" width="4.7" height="4" fill="#000"/>
<rect x="739.15" y="224.6" width="4.7" height="4" fill="#000"/>
<rect x="746.85" y="202.6" width="4.7" height="4" fill="#000"/>
<rect x="754.05" y="213" width="4.7" height="4" fill="#000"/>
<rect x="762.15" y="221.2" width="4.7" height="4" fill="#000"/>
<rect x="770.35" y="221.2" width="4.7" height="4" fill="#000"/>
<rect x="778.85" y="228.6" width="4.7" height="4" fill="#000"/>
<rect x="788.15" y="238.9" width="4.7" height="4" fill="#000"/>
<rect x="797.65" y="228.8" width="4.7" height="4" fill="#000"/>
<rect x="807.75" y="250.4" width="4.7" height="4" fill="#000"/>
<rect x="820.35" y="263.9" width="4.7" height="4" fill="#000"/>
<rect x="833.35" y="270.3" width="4.7" height="4" fill="#000"/>
<rect x="848.25" y="281" width="4.7" height="4" fill="#000"/>
<rect x="871.75" y="295.4" width="4.7" height="4" fill="#000"/>
<rect x="910.35" y="306.2" width="4.7" height="4" fill="#000"/>
<rect x="1007.75" y="317.1" width="4.7" height="4" fill="#000"/>
<polyline points="603.1,422.2 603.4,434.6 603.7,437.7 604.3,440.5 605.3,443 606.8,444.6 608.6,445 610.5,445 612.4,444.6 614,443.3 615.8,441 618.6,438.3 621.7,435.8 625.4,433.7 630.4,429.4 631.2,424.1 637.4,418.2 645.6,409.8 655.6,408.5 665.4,402.1 674.7,392.8 683.1,392.1 692.4,382.8 701.3,392.1 709.4,364.8 715.6,370.7 723.1,355.5 729.9,355.8 737.7,374.7 748.2,410.2 773.1,449.1 827,466.4 916.6,475.6" fill="none" stroke="#444" stroke-width="0.8"/>
<rect x="600.75" y="420.2" width="4.7" height="4" fill="#000"/>
<rect x="601.05" y="432.6" width="4.7" height="4" fill="#000"/>
<rect x="601.35" y="435.7" width="4.7" height="4" fill="#000"/>
<rect x="601.95" y="438.5" width="4.7" height="4" fill="#000"/>
<rect x="602.95" y="441" width="4.7" height="4" fill="#000"/>
<rect x="604.45" y="442.6" width="4.7" height="4" fill="#000"/>
<rect x="606.25" y="443" width="4.7" height="4" fill="#000"/>
<rect x="608.15" y="443" width="4.7" height="4" fill="#000"/>
<rect x="610.05" y="442.6" width="4.7" height="4" fill="#000"/>
<rect x="611.65" y="441.3" width="4.7" height="4" fill="#000"/>
<rect x="613.45" y="439" width="4.7" height="4" fill="#000"/>
<rect x="616.25" y="436.3" width="4.7" height="4" fill="#000"/>
<rect x="619.35" y="433.8" width="4.7" height="4" fill="#000"/>
<rect x="623.05" y="431.7" width="4.7" height="4" fill="#000"/>
<rect x="628.05" y="427.4" width="4.7" height="4" fill="#000"/>
<rect x="628.85" y="422.1" width="4.7" height="4" fill="#000"/>
<rect x="635.05" y="416.2" width="4.7" height="4" fill="#000"/>
<rect x="643.25" y="407.8" width="4.7" height="4" fill="#000"/>
<rect x="653.25" y="406.5" width="4.7" height="4" fill="#000"/>
<rect x="663.05" y="400.1" width="4.7" height="4" fill="#000"/>
<rect x="672.35" y="390.8" width="4.7" height="4" fill="#000"/>
<rect x="680.75" y="390.1" width="4.7" height="4" fill="#000"/>
<rect x="690.05" y="380.8" width="4.7" height="4" fill="#000"/>
<rect x="698.95" y="390.1" width="4.7" height="4" fill="#000"/>
<rect x="707.05" y="362.8" width="4.7" height="4" fill="#000"/>
<rect x="713.25" y="368.7" width="4.7" height="4" fill="#000"/>
<rect x="720.75" y="353.5" width="4.7" height="4" fill="#000"/>
<rect x="727.55" y="353.8" width="4.7" height="4" fill="#000"/>
<rect x="735.35" y="372.7" width="4.7" height="4" fill="#000"/>
<rect x="745.85" y="408.2" width="4.7" height="4" fill="#000"/>
<rect x="770.75" y="447.1" width="4.7" height="4" fill="#000"/>
<rect x="824.65" y="464.4" width="4.7" height="4" fill="#000"/>
<rect x="914.25" y="473.6" width="4.7" height="4" fill="#000"/>
<text transform="matrix(0.92,0,0,1,100.28,45.2)" font-size="20.8" font-weight="bold" letter-spacing="0" fill="#000">S</text>
<text transform="matrix(0.8,0,0,1,114.53,45.2)" font-size="20.8" font-weight="bold" letter-spacing="0" fill="#000">i</text>
<text transform="matrix(0.94,0,0,1,121.45,45.2)" font-size="20.8" font-weight="bold" letter-spacing="0" fill="#000">O</text>
<text transform="matrix(1.09,0,0,1,140.36,52.9)" font-size="9.5" font-weight="bold" letter-spacing="0" fill="#000">2</text>
<text transform="matrix(0.92,0,0,1,93.08,218.7)" font-size="20.8" font-weight="bold" letter-spacing="0" fill="#000">S</text>
<text transform="matrix(0.8,0,0,1,106.93,218.7)" font-size="20.8" font-weight="bold" letter-spacing="0" fill="#000">i</text>
<text transform="matrix(0.99,0,0,1,113.19,218.7)" font-size="20.8" font-weight="bold" letter-spacing="0" fill="#000">O</text>
<text transform="matrix(1.11,0,0,1,132.53,226.6)" font-size="10" font-weight="bold" letter-spacing="0" fill="#000">2</text>
<text transform="matrix(0.8,0,0,1,140.36,218.7)" font-size="20.8" font-weight="bold" letter-spacing="0" fill="#000">I</text>
<text transform="matrix(0.84,0,0,1,150.03,218.7)" font-size="20.8" font-weight="bold" letter-spacing="0" fill="#000">m</text>
<text transform="matrix(1.04,0,0,1,169.28,207.2)" font-size="12" font-weight="normal" letter-spacing="0" fill="#000">+</text>
<text transform="matrix(0.97,0,0,1,177.72,218.7)" font-size="20.8" font-weight="bold" letter-spacing="0" fill="#000">C</text>
<text transform="matrix(0.8,0,0,1,195.77,218.7)" font-size="20.8" font-weight="bold" letter-spacing="0" fill="#000">l</text>
<rect x="202.6" y="204.0" width="3.4" height="1.1" fill="#333"/>
<text transform="matrix(0.95,0,0,1,210.35,218.7)" font-size="20.8" font-weight="bold" letter-spacing="0" fill="#000">S</text>
<text transform="matrix(0.8,0,0,1,224.23,218.7)" font-size="20.8" font-weight="bold" letter-spacing="0" fill="#000">i</text>
<text transform="matrix(1.02,0,0,1,229.66,218.7)" font-size="20.8" font-weight="bold" letter-spacing="0" fill="#000">O</text>
<text transform="matrix(1.09,0,0,1,249.7,226.7)" font-size="10.5" font-weight="normal" letter-spacing="0" fill="#000">2</text>
<text transform="matrix(1,0,0,1,87.07,374.7)" font-size="19.5" font-weight="bold" letter-spacing="2.03" fill="#000">PW</text>
<text transform="matrix(1,0,0,1,124.84,374.7)" font-size="19.5" font-weight="bold" letter-spacing="2.13" fill="#000">(0.058)</text>
<text transform="matrix(0.95,0,0,1,202.99,374.7)" font-size="20.0" font-weight="bold" letter-spacing="0" fill="#000">/</text>
<text transform="matrix(1,0,0,1,209.04,374.7)" font-size="20.0" font-weight="bold" letter-spacing="2.1" fill="#000">SiO</text>
<text transform="matrix(0.95,0,0,1,248.84,382.6)" font-size="19" font-weight="bold" letter-spacing="0" fill="#000">2</text>
<text transform="matrix(0.85,0,0,1,262.02,374.8)" font-size="20.3" font-weight="bold" letter-spacing="0" fill="#000">I</text>
<text transform="matrix(0.92,0,0,1,271,374.8)" font-size="20.3" font-weight="bold" letter-spacing="0" fill="#000">m</text>
<text transform="matrix(1,0,0,1,290.59,364)" font-size="11.5" font-weight="bold" letter-spacing="0" fill="#000">+</text>
<text transform="matrix(1.08,0,0,1,298.43,374.8)" font-size="20.3" font-weight="bold" letter-spacing="0" fill="#000">C</text>
<text transform="matrix(0.85,0,0,1,317.06,374.8)" font-size="20.3" font-weight="bold" letter-spacing="0" fill="#000">l</text>
<rect x="323.3" y="358.3" width="4.6" height="1.8" fill="#000"/>
<text transform="matrix(1,0,0,1,331.22,374.8)" font-size="20.3" font-weight="bold" letter-spacing="1.83" fill="#000">SiO</text>
<text transform="matrix(1,0,0,1,371.2,382.6)" font-size="9" font-weight="normal" letter-spacing="0" fill="#000">2</text>
<text transform="matrix(1,0,0,1,909.38,51.6)" font-size="17.3" font-weight="bold" letter-spacing="2.74" fill="#000">SiO</text>
<text transform="matrix(1,0,0,1,946.6,59.2)" font-size="9.5" font-weight="bold" letter-spacing="0" fill="#000">2</text>
<text transform="matrix(1.03,0,0,1,850.95,216)" font-size="17.3" font-weight="bold" letter-spacing="0" fill="#000">S</text>
<text transform="matrix(0.93,0,0,1,864.04,216)" font-size="17.3" font-weight="bold" letter-spacing="0" fill="#000">i</text>
<text transform="matrix(1.05,0,0,1,870.21,216)" font-size="17.3" font-weight="bold" letter-spacing="0" fill="#000">O</text>
<text transform="matrix(1.15,0,0,1,888.77,222.7)" font-size="7.6" font-weight="bold" letter-spacing="0" fill="#000">2</text>
<text transform="matrix(0.97,0,0,1,894.73,216)" font-size="17.3" font-weight="bold" letter-spacing="0" fill="#000">I</text>
<text transform="matrix(0.89,0,0,1,904.59,216)" font-size="17.3" font-weight="bold" letter-spacing="0" fill="#000">m</text>
<text transform="matrix(1.05,0,0,1,922.62,206.3)" font-size="11" font-weight="normal" letter-spacing="0" fill="#000">+</text>
<text transform="matrix(1.04,0,0,1,930.23,216)" font-size="17.3" font-weight="bold" letter-spacing="0" fill="#000">C</text>
<text transform="matrix(0.96,0,0,1,947.08,216)" font-size="17.3" font-weight="bold" letter-spacing="0" fill="#000">l</text>
<rect x="953.3" y="203.1" width="3.2" height="1.2" fill="#222"/>
<text transform="matrix(0.9,0,0,1,960.57,216)" font-size="17.3" font-weight="bold" letter-spacing="0" fill="#000">S</text>
<text transform="matrix(0.86,0,0,1,972.57,216)" font-size="17.3" font-weight="bold" letter-spacing="0" fill="#000">i</text>
<text transform="matrix(1.09,0,0,1,978.98,216)" font-size="17.3" font-weight="bold" letter-spacing="0" fill="#000">O</text>
<text transform="matrix(1.15,0,0,1,997.9,223.2)" font-size="8" font-weight="normal" letter-spacing="0" fill="#000">2</text>
<text transform="matrix(1.12,0,0,1,742.37,357.6)" font-size="17.3" font-weight="bold" letter-spacing="0" fill="#000">P</text>
<text transform="matrix(0.88,0,0,1,756.98,357.6)" font-size="17.3" font-weight="bold" letter-spacing="0" fill="#000">W</text>
<text transform="matrix(1.04,0,0,1,778.41,357.6)" font-size="17.3" font-weight="bold" letter-spacing="0" fill="#000">(</text>
<text transform="matrix(1.13,0,0,1,785.45,357.6)" font-size="17.3" font-weight="bold" letter-spacing="0" fill="#000">0</text>
<text transform="matrix(0.86,0,0,1,797.95,357.6)" font-size="17.3" font-weight="bold" letter-spacing="0" fill="#000">.</text>
<text transform="matrix(1.13,0,0,1,803.75,357.6)" font-size="17.3" font-weight="bold" letter-spacing="0" fill="#000">0</text>
<text transform="matrix(1.07,0,0,1,816.06,357.6)" font-size="17.3" font-weight="bold" letter-spacing="0" fill="#000">5</text>
<text transform="matrix(1.11,0,0,1,826.96,357.6)" font-size="17.3" font-weight="bold" letter-spacing="0" fill="#000">8</text>
<text transform="matrix(0.9,0,0,1,837.8,357.6)" font-size="17.3" font-weight="bold" letter-spacing="0" fill="#000">)</text>
<text transform="matrix(0.85,0,0,1,851.64,357.6)" font-size="17.3" font-weight="bold" letter-spacing="0" fill="#000">/</text>
<text transform="matrix(0.89,0,0,1,857.28,357.6)" font-size="17.3" font-weight="bold" letter-spacing="0" fill="#000">S</text>
<text transform="matrix(0.86,0,0,1,869.17,357.6)" font-size="17.3" font-weight="bold" letter-spacing="0" fill="#000">i</text>
<text transform="matrix(1.09,0,0,1,875.18,357.6)" font-size="17.3" font-weight="bold" letter-spacing="0" fill="#000">O</text>
<text transform="matrix(1.11,0,0,1,894.72,365.2)" font-size="14.5" font-weight="bold" letter-spacing="0" fill="#000">2</text>
<text transform="matrix(0.88,0,0,1,905.89,357.6)" font-size="17.3" font-weight="bold" letter-spacing="0" fill="#000">I</text>
<text transform="matrix(0.91,0,0,1,915.18,357.6)" font-size="17.3" font-weight="bold" letter-spacing="0" fill="#000">m</text>
<text transform="matrix(0.92,0,0,1,933.62,348.3)" font-size="10.5" font-weight="normal" letter-spacing="0" fill="#000">+</text>
<text transform="matrix(1.03,0,0,1,941.13,357.6)" font-size="17.3" font-weight="bold" letter-spacing="0" fill="#000">C</text>
<text transform="matrix(0.91,0,0,1,958.39,357.6)" font-size="17.3" font-weight="bold" letter-spacing="0" fill="#000">l</text>
<rect x="965.6" y="344.2" width="3.4" height="1.6" fill="#000"/>
<text transform="matrix(1,0,0,1,970.98,357.6)" font-size="17.3" font-weight="bold" letter-spacing="2.79" fill="#000">SiO</text>
<text transform="matrix(1.15,0,0,1,1008.5,366.4)" font-size="8" font-weight="normal" letter-spacing="0" fill="#000">2</text>
<text transform="matrix(0.88,0,0,1,141.79,513.1)" font-size="20.3" font-weight="bold" letter-spacing="0" fill="#000">R</text>
<text transform="matrix(0.9,0,0,1,159.28,513.1)" font-size="20.3" font-weight="bold" letter-spacing="0" fill="#000">e</text>
<text transform="matrix(0.8,0,0,1,170.02,513.1)" font-size="20.3" font-weight="bold" letter-spacing="0" fill="#000">l</text>
<text transform="matrix(0.84,0,0,1,176.95,513.1)" font-size="20.3" font-weight="bold" letter-spacing="0" fill="#000">a</text>
<text transform="matrix(0.8,0,0,1,189,513.1)" font-size="20.3" font-weight="bold" letter-spacing="0" fill="#000">t</text>
<text transform="matrix(0.8,0,0,1,196.78,513.1)" font-size="20.3" font-weight="bold" letter-spacing="0" fill="#000">i</text>
<text transform="matrix(0.89,0,0,1,203.4,513.1)" font-size="20.3" font-weight="bold" letter-spacing="0" fill="#000">v</text>
<text transform="matrix(0.92,0,0,1,215.06,513.1)" font-size="20.3" font-weight="bold" letter-spacing="0" fill="#000">e</text>
<text transform="matrix(0.9,0,0,1,232.37,513.1)" font-size="20.3" font-weight="bold" letter-spacing="0" fill="#000">p</text>
<text transform="matrix(0.83,0,0,1,245.55,513.1)" font-size="20.3" font-weight="bold" letter-spacing="0" fill="#000">r</text>
<text transform="matrix(0.94,0,0,1,256.05,513.1)" font-size="20.3" font-weight="bold" letter-spacing="0" fill="#000">e</text>
<text transform="matrix(0.96,0,0,1,266.91,513.1)" font-size="20.3" font-weight="bold" letter-spacing="0" fill="#000">s</text>
<text transform="matrix(0.85,0,0,1,276.28,513.1)" font-size="20.3" font-weight="bold" letter-spacing="0" fill="#000">s</text>
<text transform="matrix(0.8,0,0,1,285.98,513.1)" font-size="20.3" font-weight="bold" letter-spacing="0" fill="#000">u</text>
<text transform="matrix(0.85,0,0,1,299.24,513.1)" font-size="20.3" font-weight="bold" letter-spacing="0" fill="#000">r</text>
<text transform="matrix(0.9,0,0,1,309.18,513.1)" font-size="20.3" font-weight="bold" letter-spacing="0" fill="#000">e</text>
<text transform="matrix(0.92,0,0,1,325.68,513.1)" font-size="20.3" font-weight="bold" letter-spacing="0" fill="#000">(</text>
<text transform="matrix(0.86,0,0,1,334,513.1)" font-size="20.3" font-weight="bold" letter-spacing="0" fill="#000">P</text>
<text transform="matrix(0.8,0,0,1,348.54,513.1)" font-size="20.3" font-weight="bold" letter-spacing="0" fill="#000">/</text>
<text transform="matrix(0.91,0,0,1,355.39,513.1)" font-size="20.3" font-weight="bold" letter-spacing="0" fill="#000">P</text>
<text transform="matrix(0.99,0,0,1,369.64,513.1)" font-size="20.3" font-weight="bold" letter-spacing="0" fill="#000">o</text>
<text transform="matrix(0.94,0,0,1,381.49,513.1)" font-size="20.3" font-weight="bold" letter-spacing="0" fill="#000">)</text>
<text transform="matrix(0.92,0,0,1,702.17,519.5)" font-size="21.0" font-weight="bold" letter-spacing="0" fill="#000">P</text>
<text transform="matrix(1.02,0,0,1,719.58,519.5)" font-size="21.0" font-weight="bold" letter-spacing="0" fill="#000">o</text>
<text transform="matrix(0.96,0,0,1,734.16,519.5)" font-size="21.0" font-weight="bold" letter-spacing="0" fill="#000">r</text>
<text transform="matrix(1.03,0,0,1,746.26,519.5)" font-size="21.0" font-weight="bold" letter-spacing="0" fill="#000">e</text>
<text transform="matrix(0.93,0,0,1,766.01,519.5)" font-size="21.0" font-weight="bold" letter-spacing="0" fill="#000">s</text>
<text transform="matrix(0.83,0,0,1,777.32,519.5)" font-size="21.0" font-weight="bold" letter-spacing="0" fill="#000">i</text>
<text transform="matrix(0.93,0,0,1,785.02,519.5)" font-size="21.0" font-weight="bold" letter-spacing="0" fill="#000">z</text>
<text transform="matrix(0.99,0,0,1,797.49,519.5)" font-size="21.0" font-weight="bold" letter-spacing="0" fill="#000">e</text>
<text transform="matrix(1.11,0,0,1,816.67,519.5)" font-size="21.0" font-weight="bold" letter-spacing="0" fill="#000">(</text>
<text transform="matrix(0.85,0,0,1,827.52,519.5)" font-size="21.0" font-weight="bold" letter-spacing="0" fill="#000">n</text>
<text transform="matrix(0.92,0,0,1,842.98,519.5)" font-size="21.0" font-weight="bold" letter-spacing="0" fill="#000">m</text>
<text transform="matrix(1.04,0,0,1,866,519.5)" font-size="21.0" font-weight="bold" letter-spacing="0" fill="#000">)</text>
<text transform="matrix(0.75,0,0,1,218.9,556.8)" font-size="24.5" font-weight="normal" letter-spacing="0" fill="#000">(</text>
<text transform="matrix(0.93,0,0,1,226.48,555.8)" font-size="24" font-weight="bold" letter-spacing="0" fill="#000">A</text>
<text transform="matrix(0.7,0,0,1,244.74,556.8)" font-size="24.5" font-weight="normal" letter-spacing="0" fill="#000">)</text>
<text transform="matrix(0.76,0,0,1,735.88,556.8)" font-size="24.5" font-weight="normal" letter-spacing="0" fill="#000">(</text>
<text transform="matrix(0.8,0,0,1,744.1,555.6)" font-size="24" font-weight="bold" letter-spacing="0" fill="#000">B</text>
<text transform="matrix(0.76,0,0,1,759,556.8)" font-size="24.5" font-weight="normal" letter-spacing="0" fill="#000">)</text>
<text transform="matrix(0,-0.95,1,0,32.3,407.33)" font-size="21.5" font-weight="bold" letter-spacing="0.15" fill="#000">Volume adsorbed(cm</text>
<text transform="matrix(0,-1,1,0,18.3,216.32)" font-size="16.5" font-weight="bold" letter-spacing="0" fill="#000">3</text>
<text transform="matrix(0,-1,1,0,32.3,206.37)" font-size="21.5" font-weight="bold" letter-spacing="0" fill="#000">g</text>
<text transform="matrix(0,-1,1,0,18.6,193.6)" font-size="16.5" font-weight="bold" letter-spacing="0.41" fill="#000">-1</text>
<text transform="matrix(0,-0.9,1,0,32.3,177.72)" font-size="21.5" font-weight="bold" letter-spacing="0" fill="#000">nm</text>
<text transform="matrix(0,-1,1,0,18.6,149.3)" font-size="16.5" font-weight="bold" letter-spacing="0.51" fill="#000">-1</text>
<text transform="matrix(0,-1,1,0,32,131.88)" font-size="18" font-weight="bold" letter-spacing="0" fill="#000">)</text>
<text transform="matrix(0,-0.95,1,0,527.4,316.41)" font-size="21.0" font-weight="bold" letter-spacing="0.88" fill="#000">dV/dD</text>
<text transform="matrix(0,-1,1,0,526.8,249.88)" font-size="13.2" font-weight="bold" letter-spacing="0" fill="#000">(</text>
<text transform="matrix(0,-1,1,0,527.4,243.92)" font-size="21.0" font-weight="bold" letter-spacing="1.06" fill="#000">cm</text>
<text transform="matrix(0,-1,1,0,512.5,215.15)" font-size="20" font-weight="bold" letter-spacing="0" fill="#000">3</text>
<text transform="matrix(0,-1,1,0,527.4,202.39)" font-size="21.0" font-weight="bold" letter-spacing="0" fill="#000">/</text>
<text transform="matrix(0,-1,1,0,527.4,195.65)" font-size="21.0" font-weight="bold" letter-spacing="-0.13" fill="#000">gnm</text>
<text transform="matrix(0,-1,1,0,527,154.63)" font-size="13.2" font-weight="bold" letter-spacing="0" fill="#000">)</text>
</svg>
</body></html>
